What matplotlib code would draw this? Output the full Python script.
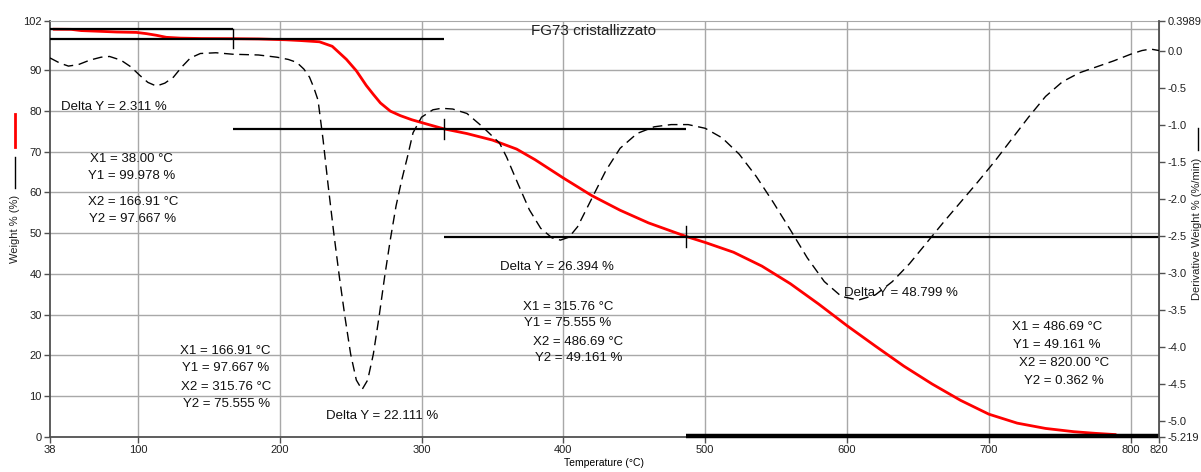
import matplotlib
matplotlib.use("Agg")
import matplotlib.pyplot as plt
from matplotlib.lines import Line2D

plt.rcParams['font.family'] = ['Liberation Sans', 'DejaVu Sans']

# --- TGA weight curve (left axis, %) ---
temp_w = [41, 53, 60, 71, 85, 99, 106, 113, 120, 130, 145, 166.9, 185, 204, 215,
          228, 237, 247, 254, 261, 266, 271, 278, 285, 293, 304, 315.76, 332, 350,
          367, 380, 400, 420, 440, 460, 486.69, 500, 520, 540, 560, 580, 600, 620,
          640, 660, 680, 700, 720, 740, 760, 775, 789]
weight = [99.98, 99.95, 99.65, 99.5, 99.3, 99.2, 98.9, 98.5, 98.0, 97.8, 97.7, 97.667,
          97.6, 97.4, 97.2, 96.9, 95.8, 92.6, 89.8, 86.2, 84.0, 81.9, 79.9, 78.8, 77.8,
          76.7, 75.555, 74.4, 72.8, 70.6, 68.0, 63.5, 59.2, 55.6, 52.5, 49.161, 47.7,
          45.3, 41.9, 37.6, 32.6, 27.3, 22.3, 17.4, 13.0, 9.0, 5.6, 3.4, 2.1, 1.3, 0.9, 0.6]

# --- DTG curve (right axis, %/min) ---
temp_d = [38, 45, 51, 58, 66, 74, 80, 88, 95, 101, 107, 113, 119, 125, 131, 137, 144,
          155, 167, 185, 198, 206, 212, 217, 221, 224, 227, 230.6, 234, 238, 242, 246,
          250, 254, 258, 262, 266, 270, 274, 278, 282, 286, 290, 294, 300, 308, 314,
          322, 332, 343, 355, 360, 368, 376, 384, 392, 398, 404, 410, 420, 430, 440,
          452, 464, 476, 488, 500, 512, 524, 536, 548, 560, 572, 584, 596, 608, 620,
          632, 644, 656, 668, 680, 692, 704, 716, 728, 740, 752, 764, 776, 788, 800,
          808, 814, 820]
dtg = [-0.10, -0.17, -0.21, -0.19, -0.13, -0.09, -0.08, -0.13, -0.22, -0.33, -0.43,
       -0.48, -0.44, -0.36, -0.22, -0.10, -0.04, -0.03, -0.05, -0.06, -0.09, -0.12,
       -0.16, -0.25, -0.36, -0.50, -0.67, -1.21, -1.80, -2.45, -3.05, -3.60, -4.10,
       -4.45, -4.58, -4.45, -4.10, -3.60, -3.05, -2.55, -2.10, -1.75, -1.44, -1.11,
       -0.90, -0.80, -0.78, -0.79, -0.85, -1.03, -1.25, -1.44, -1.80, -2.15, -2.40,
       -2.53, -2.56, -2.52, -2.38, -2.00, -1.62, -1.32, -1.12, -1.03, -1.00, -1.00,
       -1.05, -1.18, -1.40, -1.70, -2.05, -2.42, -2.80, -3.12, -3.32, -3.37, -3.30,
       -3.12, -2.88, -2.60, -2.32, -2.05, -1.78, -1.50, -1.20, -0.90, -0.62, -0.42,
       -0.30, -0.22, -0.14, -0.05, 0.00, 0.02, 0.00]

# --- step analysis results ---
steps_x1 = [38.00, 166.91, 315.76, 486.69]
steps_y1 = [99.978, 97.667, 75.555, 49.161]
steps_x2 = [166.91, 315.76, 486.69, 820.00]
steps_y2 = [97.667, 75.555, 49.161, 0.362]
delta_y = [2.311, 22.111, 26.394, 48.799]

x_ticks = [38, 100, 200, 300, 400, 500, 600, 700, 800, 820]
y_ticks = [0, 10, 20, 30, 40, 50, 60, 70, 80, 90, 102]
d_ticks = [0.3989, 0.0, -0.5, -1.0, -1.5, -2.0, -2.5, -3.0, -3.5, -4.0, -4.5, -5.0, -5.219]
d_labels = ['0.3989', '0.0', '-0.5', '-1.0', '-1.5', '-2.0', '-2.5', '-3.0', '-3.5',
            '-4.0', '-4.5', '-5.0', '-5.219']

W, H = 1201, 472
fig = plt.figure(figsize=(W / 100, H / 100), dpi=100)
ax = fig.add_axes([50 / W, (H - 437) / H, (1159 - 50) / W, (437 - 21) / H])
ax.set_xlim(38, 820)
ax.set_ylim(0, 102)

grid_c = '#a8a8a8'
for gx in range(100, 801, 100):
    ax.axvline(gx, color=grid_c, lw=1.0, zorder=0)
for gy in range(10, 101, 10):
    ax.axhline(gy, color=grid_c, lw=1.0, zorder=0)

for side in ['top', 'right']:
    ax.spines[side].set_color(grid_c)
for side in ['left', 'bottom']:
    ax.spines[side].set_color('#505050')
    ax.spines[side].set_linewidth(1.3)

ax.set_xticks(x_ticks)
ax.set_xticklabels([str(t) for t in x_ticks])
ax.set_yticks(y_ticks)
ax.set_yticklabels([str(t) for t in y_ticks])
ax.tick_params(axis='both', labelsize=8, length=4, width=1, color='#505050',
               labelcolor='#202020', pad=2)
ax.set_xlabel('Temperature (°C)', fontsize=7.5, labelpad=2)

# weight curve
ax.plot(temp_w, weight, color='#ff0000', lw=2.0, zorder=3)

# step marker lines
lk = dict(color='black', lw=1.6, zorder=4, solid_capstyle='butt')
ax.plot([steps_x1[0], steps_x2[0]], [steps_y1[0], steps_y1[0]], **lk)
ax.plot([steps_x2[0], steps_x2[0]], [steps_y1[0], 95.3], color='black', lw=1.0, zorder=4)
ax.plot([steps_x1[0], steps_x2[1]], [steps_y2[0], steps_y2[0]], **lk)
ax.plot([steps_x1[1], steps_x2[2]], [steps_y2[1], steps_y2[1]], **lk)
ax.plot([steps_x1[2], steps_x1[2]], [steps_y2[1] + 2.5, steps_y2[1] - 2.5],
        color='black', lw=1.0, zorder=4)
ax.plot([steps_x1[2], steps_x2[3]], [steps_y2[2], steps_y2[2]], **lk)
ax.plot([steps_x1[3], steps_x1[3]], [steps_y2[2] + 2.5, steps_y2[2] - 2.5],
        color='black', lw=1.0, zorder=4)
ax.plot([steps_x1[3], steps_x2[3]], [steps_y2[3], steps_y2[3]], color='black',
        lw=3.2, zorder=4, clip_on=False, solid_capstyle='butt')

# DTG on right axis
ax2 = ax.twinx()
ax2.set_ylim(-5.219, 0.3989)
ax2.plot(temp_d, dtg, color='black', lw=1.0, dashes=(7, 4), zorder=3)
ax2.set_yticks(d_ticks)
ax2.set_yticklabels(d_labels)
ax2.tick_params(axis='y', labelsize=8, length=4, width=1, color='#505050',
                labelcolor='#202020', pad=2)
for side in ['top', 'left', 'bottom']:
    ax2.spines[side].set_visible(False)
ax2.spines['right'].set_color('#505050')
ax2.spines['right'].set_linewidth(1.3)

# annotations
fs = 9.5
ax.text(421, 99.6, 'FG73 cristallizzato', fontsize=11, ha='center', va='center',
        color='#202020', zorder=6)


def block(x, y_top, lines, dy=4.1):
    for i, s in enumerate(lines):
        ax.text(x, y_top - i * dy, s, fontsize=fs, ha='center', va='center',
                color='#101010', zorder=6)


def step_lines(i):
    return [f'X1 = {steps_x1[i]:.2f} °C', f'Y1 = {steps_y1[i]:.3f} %',
            f'X2 = {steps_x2[i]:.2f} °C', f'Y2 = {steps_y2[i]:.3f} %']


ax.text(45.8, 80.9, f'Delta Y = {delta_y[0]:.3f} %', fontsize=fs, ha='left',
        va='center', color='#101010')
s = step_lines(0)
block(95.5, 68.2, s[:2])
block(96.5, 57.6, s[2:])
s = step_lines(1)
block(161.5, 21.1, s[:2])
block(162.5, 12.3, s[2:])
ax.text(272, 5.1, f'Delta Y = {delta_y[1]:.3f} %', fontsize=fs, ha='center', va='center',
        color='#101010')
ax.text(395.4, 41.7, f'Delta Y = {delta_y[2]:.3f} %', fontsize=fs, ha='center',
        va='center', color='#101010')
s = step_lines(2)
block(403.1, 31.9, s[:2], dy=3.9)
block(410.5, 23.3, s[2:], dy=3.9)
ax.text(637.9, 35.3, f'Delta Y = {delta_y[3]:.3f} %', fontsize=fs, ha='center',
        va='center', color='#101010')
s = step_lines(3)
block(748, 27.0, s[:2], dy=4.4)
block(753, 18.1, s[2:], dy=4.4)

# axis titles with line keys
fig.text(15 / W, 1 - 229 / H, 'Weight % (%)', rotation=90, fontsize=8,
         ha='center', va='center', color='#202020')
fig.add_artist(Line2D([15 / W, 15 / W], [1 - 147 / H, 1 - 114 / H], color='#ff0000', lw=2))
fig.add_artist(Line2D([15 / W, 15 / W], [1 - 188 / H, 1 - 157 / H], color='black', lw=1))
fig.text(1197 / W, 1 - 229 / H, 'Derivative Weight % (%/min)', rotation=90, fontsize=8,
         ha='center', va='center', color='#202020')
fig.add_artist(Line2D([1198 / W, 1198 / W], [1 - 150 / H, 1 - 128 / H], color='black', lw=1))

fig.savefig('out.png', dpi=100)
